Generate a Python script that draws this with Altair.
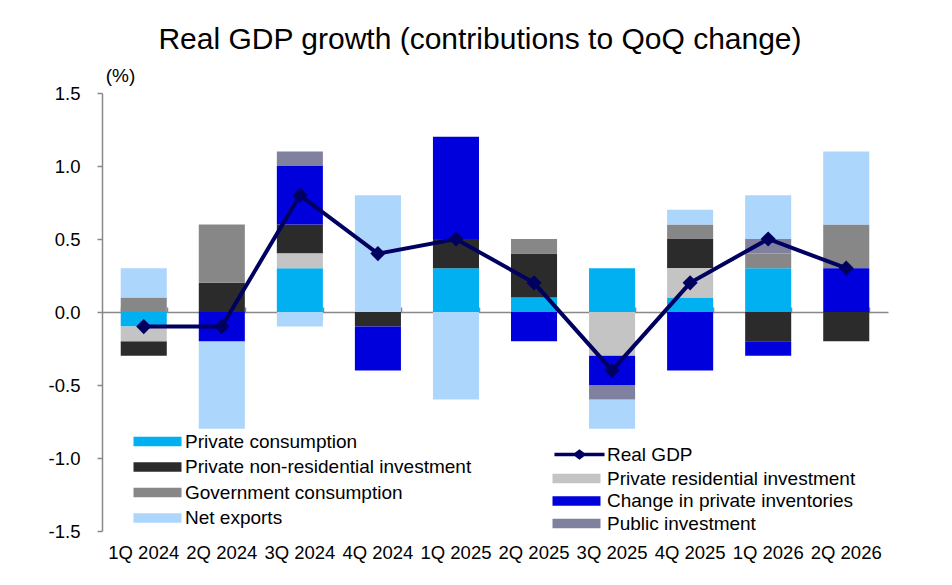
import altair as alt
import pandas as pd

quarters = ["1Q 2024", "2Q 2024", "3Q 2024", "4Q 2024", "1Q 2025",
            "2Q 2025", "3Q 2025", "4Q 2025", "1Q 2026", "2Q 2026"]

private_consumption = [-0.1, 0.0, 0.3, 0.0, 0.3, 0.1, 0.3, 0.1, 0.3, 0.0]
private_residential = [-0.1, 0.0, 0.1, 0.0, 0.0, 0.0, -0.3, 0.2, 0.0, 0.0]
private_nonresidential = [-0.1, 0.2, 0.2, -0.1, 0.2, 0.3, 0.0, 0.2, -0.2, -0.2]
private_inventories = [0.0, -0.2, 0.4, -0.3, 0.7, -0.2, -0.2, -0.4, -0.1, 0.3]
government_consumption = [0.1, 0.4, 0.0, 0.0, 0.0, 0.1, 0.0, 0.1, 0.1, 0.3]
public_investment = [0.0, 0.0, 0.1, 0.0, 0.0, 0.0, -0.1, 0.0, 0.1, 0.0]
net_exports = [0.2, -0.6, -0.1, 0.8, -0.6, 0.0, -0.2, 0.1, 0.3, 0.5]
real_gdp = [-0.1, -0.1, 0.8, 0.4, 0.5, 0.2, -0.4, 0.2, 0.5, 0.3]

# stacking order (bottom -> top), legend group
components = [
    ("Private consumption", private_consumption, "left"),
    ("Private residential investment", private_residential, "right"),
    ("Private non-residential investment", private_nonresidential, "left"),
    ("Change in private inventories", private_inventories, "right"),
    ("Government consumption", government_consumption, "left"),
    ("Public investment", public_investment, "right"),
    ("Net exports", net_exports, "left"),
]

left_names = ["Private consumption", "Private non-residential investment",
              "Government consumption", "Net exports"]
left_colors = ["#00B0F0", "#2B2B2B", "#878787", "#ADD6FC"]
right_names = ["Private residential investment", "Change in private inventories",
               "Public investment"]
right_colors = ["#C4C4C4", "#0000DC", "#80809F"]

rows = []
for order, (name, vals, grp) in enumerate(components):
    for q, v in zip(quarters, vals):
        if v != 0:
            rows.append({"quarter": q, "component": name, "value": v,
                         "order": order, "group": grp})
df = pd.DataFrame(rows)
gdp_df = pd.DataFrame({"quarter": quarters, "gdp": real_gdp, "series": "Real GDP"})

FONT = "Liberation Sans"
AXIS_GRAY = "#898989"
NAVY = "#000060"
W, H = 786, 438
LEG_FS = 19

xscale = alt.Scale(paddingInner=0.41, paddingOuter=0.24)
yscale = alt.Scale(domain=[-1.5, 1.5], nice=False, zero=False)

yaxis = alt.Axis(values=[-1.5, -1.0, -0.5, 0.0, 0.5, 1.0, 1.5],
                 labelExpr="replace(format(datum.value, '.1f'), '\u2212', '-')",
                 tickSize=5, labelPadding=17, labelFontSize=18.5, labelColor="#000",
                 domainColor=AXIS_GRAY, tickColor=AXIS_GRAY, domainWidth=1.5,
                 tickWidth=1.5, grid=False, title="(%)", titleAngle=0, titleX=18,
                 titleY=-18, titleAlign="center", titleBaseline="middle",
                 titleFontSize=19, titleFontWeight="normal", titleColor="#000",
                 titleFont=FONT)

label_axis = alt.Axis(labelAngle=0, ticks=False, domain=False, labelPadding=12,
                      labelFontSize=18.5, labelColor="#000", title=None,
                      labelOverlap=False)
zero_axis = alt.Axis(labels=False, ticks=True, tickBand="extent", tickSize=5,
                     domainColor=AXIS_GRAY, tickColor=AXIS_GRAY, domainWidth=1.5,
                     tickWidth=1.5, offset=-H / 2, title=None)

# wide flat rectangle drawn outside the unit box so rows stay compact
rect_path = "M-4,-0.8H4V0.8H-4Z"
gdp_path = "M-4.17,0H4.17M-0.67,0L0,-0.5L0.67,0L0,0.5Z"

base = alt.Chart(df).transform_stack(
    stack="value", groupby=["quarter"], as_=["y0", "y1"],
    sort=[alt.SortField("order", order="ascending")]
)

bars_left = base.transform_filter(alt.datum.group == "left").mark_bar().encode(
    x=alt.X("quarter:N", sort=quarters, scale=xscale, axis=label_axis),
    y=alt.Y("y0:Q", scale=yscale, axis=yaxis),
    y2="y1:Q",
    color=alt.Color("component:N",
                    scale=alt.Scale(domain=left_names, range=left_colors),
                    legend=alt.Legend(orient="none", legendX=46, legendY=339,
                                      title=None, symbolType=rect_path,
                                      symbolSize=144, symbolStrokeWidth=0,
                                      symbolOpacity=1, labelFontSize=LEG_FS,
                                      labelColor="#000", labelOffset=18,
                                      rowPadding=5.5, labelLimit=400)),
)

bars_right = base.transform_filter(alt.datum.group == "right").mark_bar().encode(
    x=alt.X("quarter:N", sort=quarters, scale=xscale, axis=None),
    y=alt.Y("y0:Q", scale=yscale, axis=yaxis),
    y2="y1:Q",
    color=alt.Color("component:N",
                    scale=alt.Scale(domain=right_names, range=right_colors),
                    legend=alt.Legend(orient="none", legendX=465, legendY=376,
                                      title=None, symbolType=rect_path,
                                      symbolSize=144, symbolStrokeWidth=0,
                                      symbolOpacity=1, labelFontSize=LEG_FS,
                                      labelColor="#000", labelOffset=21,
                                      rowPadding=2.5, labelLimit=400)),
)

gdp_line = alt.Chart(gdp_df).mark_line(strokeWidth=4).encode(
    x=alt.X("quarter:N", sort=quarters, scale=xscale, axis=zero_axis),
    y=alt.Y("gdp:Q", scale=yscale, axis=yaxis),
    stroke=alt.Stroke("series:N",
                      scale=alt.Scale(domain=["Real GDP"], range=[NAVY]),
                      legend=alt.Legend(orient="none", legendX=468, legendY=352,
                                        title=None, symbolType=gdp_path,
                                        symbolSize=144, symbolStrokeWidth=3.5,
                                        symbolFillColor=NAVY, labelFontSize=LEG_FS,
                                        labelColor="#000", labelOffset=18)),
)

gdp_points = alt.Chart(gdp_df).mark_point(shape="diamond", filled=True, size=230,
                                          color=NAVY, opacity=1).encode(
    x=alt.X("quarter:N", sort=quarters, scale=xscale, axis=None),
    y=alt.Y("gdp:Q", scale=yscale, axis=yaxis),
)

chart = alt.layer(bars_left, bars_right, gdp_line, gdp_points).resolve_scale(
    color="independent"
).resolve_axis(x="independent").properties(
    width=W, height=H,
    title=alt.TitleParams("Real GDP growth (contributions to QoQ change)",
                          fontSize=30, font=FONT, fontWeight="normal",
                          color="#000", anchor="middle", dx=-15, offset=11),
    autosize=alt.AutoSizeParams(type="none"),
    padding={"left": 94, "top": 85, "right": 50, "bottom": 50},
).configure(font=FONT).configure_view(stroke=None)

chart.save("out.html", embed_options={"renderer": "svg", "actions": False})
